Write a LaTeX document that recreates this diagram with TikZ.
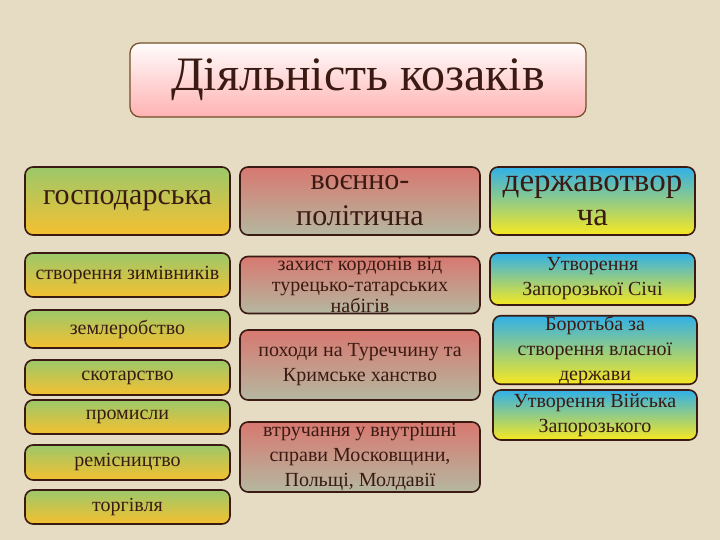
\documentclass[tikz,border=0pt]{standalone}
\usepackage{fontspec}
\setmainfont{Liberation Serif}
\definecolor{gT}{HTML}{9CC86A}\definecolor{gM}{HTML}{D8BCB4}\definecolor{gB}{HTML}{F5C030}
\definecolor{rT}{HTML}{D87870}\definecolor{rM}{HTML}{DCB8B0}\definecolor{rB}{HTML}{B4B8A0}
\definecolor{bT}{HTML}{30B0E8}\definecolor{bM}{HTML}{D8C0C8}\definecolor{bB}{HTML}{F8E820}
\definecolor{bg}{HTML}{E6DCC4}\definecolor{ink}{HTML}{3A1A12}
\begin{document}
\begin{tikzpicture}[x=1pt,y=-1pt,
 base/.style={draw=ink,line width=1.6pt,rounded corners=8pt,text=ink,align=center,inner sep=0pt},
 grn/.style={base,top color=gT,middle color=gM,bottom color=gB},
 red/.style={base,top color=rT,middle color=rM,bottom color=rB},
 blu/.style={base,top color=bT,middle color=bM,bottom color=bB},
 big/.style={font=\fontsize{30}{36}\selectfont},
 sm/.style={font=\fontsize{20}{25}\selectfont},
 ttl/.style={base,rounded corners=10pt,top color=white!95!pink,bottom color=pink!60!red!55,draw=brown!60!black,line width=1.2pt,font=\fontsize{48}{52}\selectfont}]
\fill[fill=bg] (0,0) rectangle (720,540);
\useasboundingbox (0,0) rectangle (720,540);
\node[ttl,minimum width=456,minimum height=74] (t) at (358,80) {Діяльність козаків};
% column 1
\node[grn,big,minimum width=205,minimum height=68] (g1) at (127.5,201) {господарська};
\node[grn,sm,minimum width=205,minimum height=44] (g2) at (127.5,275) {створення зимівників};
\node[grn,sm,minimum width=205,minimum height=38] (g3) at (127.5,329) {землеробство};
\node[grn,sm,minimum width=205,minimum height=35] (g4) at (127.5,377.5) {скотарство};
\node[grn,sm,minimum width=205,minimum height=34] (g5) at (127.5,417) {промисли};
\node[grn,sm,minimum width=205,minimum height=35] (g6) at (127.5,462.5) {ремісництво};
\node[grn,sm,minimum width=205,minimum height=34] (g7) at (127.5,507) {торгівля};
% column 2
\node[red,big,minimum width=240,minimum height=68] (r1) at (360,201) {воєнно-\\політична};
\node[red,minimum width=240,minimum height=57,font=\fontsize{20}{21}\selectfont] (r2) at (360,285) {захист кордонів від\\турецько-татарських\\набігів};
\node[red,sm,minimum width=240,minimum height=70] (r3) at (360,365) {походи на Туреччину та\\Кримське ханство};
\node[red,sm,minimum width=240,minimum height=70] (r4) at (360,457) {втручання у внутрішні\\справи Московщини,\\Польщі, Молдавії};
% column 3
\node[blu,minimum width=205,minimum height=68,font=\fontsize{33}{34}\selectfont] (b1) at (592.5,201) {державотвор\\ча};
\node[blu,sm,minimum width=205,minimum height=52] (b2) at (592.5,279) {Утворення\\Запорозької Січі};
\node[blu,sm,minimum width=204,minimum height=50] (b3) at (595,350) {Боротьба за\\створення власної\\держави};
\node[blu,sm,minimum width=204,minimum height=50] (b4) at (595,415) {Утворення Війська\\Запорозького};
\end{tikzpicture}
\end{document}
